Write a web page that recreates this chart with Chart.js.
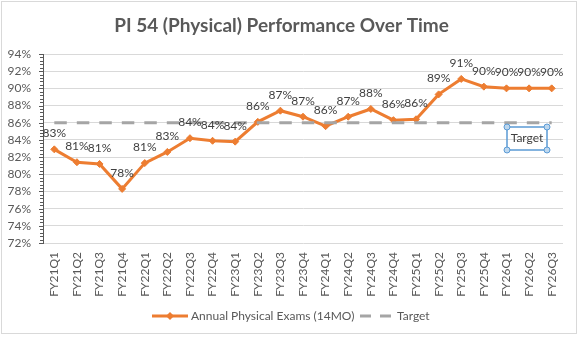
<html>
<head>
    <meta charset="utf-8">
    <title>PI 54 (Physical) Performance Over Time</title>
    <script src="https://cdn.jsdelivr.net/npm/chart.js"></script>
    <style>
        body { margin: 0; background: #fff; }
        .container { width: 578px; height: 338px; }
    </style>
</head>
<body>

<div class="container">
    <canvas id="myChart" width="578" height="338"></canvas>
</div>
<script>

    var quarters = ["FY21Q1", "FY21Q2", "FY21Q3", "FY21Q4", "FY22Q1", "FY22Q2", "FY22Q3", "FY22Q4",
        "FY23Q1", "FY23Q2", "FY23Q3", "FY23Q4", "FY24Q1", "FY24Q2", "FY24Q3", "FY24Q4",
        "FY25Q1", "FY25Q2", "FY25Q3", "FY25Q4", "FY26Q1", "FY26Q2", "FY26Q3"];
    var physicalExams = [82.9, 81.4, 81.2, 78.3, 81.3, 82.6, 84.2, 83.9, 83.8, 86.1, 87.4, 86.7,
        85.6, 86.7, 87.6, 86.3, 86.4, 89.3, 91.1, 90.2, 90.0, 90.0, 90.0];
    var targetValues = [86, 86, 86, 86, 86, 86, 86, 86, 86, 86, 86, 86,
        86, 86, 86, 86, 86, 86, 86, 86, 86, 86, 86];
    var yTicks = [72, 74, 76, 78, 80, 82, 84, 86, 88, 90, 92, 94];

    var ORANGE = '#ED7D31';
    var GRAY = '#A5A5A5';
    var TEXT = '#595959';
    var FONT = 'Lato';

    // frame, minor ticks on the value axis, data labels, legend and the text box
    var extras = {
        id: 'extras',
        beforeDraw: function (chart) {
            var ctx = chart.ctx;
            ctx.save();
            ctx.fillStyle = '#fff';
            ctx.fillRect(0, 0, chart.width, chart.height);
            ctx.strokeStyle = '#D9D9D9';
            ctx.lineWidth = 1;
            ctx.strokeRect(1.5, 1.5, 575, 332);
            ctx.restore();
        },
        afterDatasetsDraw: function (chart) {
            var ctx = chart.ctx;
            var y = chart.scales.y;
            var left = chart.chartArea.left;
            ctx.save();
            ctx.strokeStyle = '#595959';
            ctx.lineWidth = 1;
            for (var v = 72; v <= 94.001; v += 0.4) {
                var py = Math.round(y.getPixelForValue(v)) + 0.5;
                var major = Math.abs(v - Math.round(v / 2) * 2) < 0.01;
                ctx.beginPath();
                ctx.moveTo(left - (major ? 4 : 3), py);
                ctx.lineTo(left, py);
                ctx.stroke();
            }

            // data labels
            var meta = chart.getDatasetMeta(0);
            ctx.fillStyle = '#404040';
            ctx.font = '12px ' + FONT;
            ctx.textAlign = 'center';
            ctx.textBaseline = 'middle';
            meta.data.forEach(function (pt, i) {
                ctx.fillText(Math.round(physicalExams[i]) + '%', pt.x, pt.y - 16);
            });

            // legend
            var ly = 316;
            ctx.strokeStyle = ORANGE;
            ctx.lineWidth = 3;
            ctx.beginPath();
            ctx.moveTo(152, ly);
            ctx.lineTo(188, ly);
            ctx.stroke();
            ctx.fillStyle = ORANGE;
            ctx.beginPath();
            ctx.moveTo(170, ly - 4);
            ctx.lineTo(174, ly);
            ctx.lineTo(170, ly + 4);
            ctx.lineTo(166, ly);
            ctx.closePath();
            ctx.fill();
            ctx.strokeStyle = GRAY;
            ctx.beginPath();
            ctx.moveTo(360, ly);
            ctx.lineTo(371, ly);
            ctx.moveTo(380, ly);
            ctx.lineTo(391, ly);
            ctx.stroke();
            ctx.fillStyle = TEXT;
            ctx.textAlign = 'left';
            ctx.fillText('Annual Physical Exams (14MO)', 191, ly);
            ctx.fillText('Target', 397, ly);

            // selected text box
            var bx = 507, by = 127, bw = 40, bh = 23;
            ctx.strokeStyle = '#5B9BD5';
            ctx.lineWidth = 1.5;
            ctx.strokeRect(bx, by, bw, bh);
            ctx.fillStyle = '#404040';
            ctx.textAlign = 'center';
            ctx.fillText('Target', bx + bw / 2, by + bh / 2);
            [[bx, by], [bx + bw, by], [bx, by + bh], [bx + bw, by + bh]].forEach(function (c) {
                ctx.beginPath();
                ctx.arc(c[0], c[1], 3, 0, Math.PI * 2);
                ctx.fillStyle = '#BDD7EE';
                ctx.fill();
                ctx.lineWidth = 1;
                ctx.stroke();
            });
            ctx.restore();
        }
    };

    var container = document.getElementById('myChart');
    const config = {
        type: 'line',
        data: {
            labels: quarters,
            datasets: [{
                label: 'Annual Physical Exams (14MO)',
                data: physicalExams,
                borderColor: ORANGE,
                backgroundColor: ORANGE,
                borderWidth: 3,
                pointStyle: 'rectRot',
                pointRadius: 3.5,
                pointBorderWidth: 1,
                tension: 0,
                order: 1
            }, {
                label: 'Target',
                data: targetValues,
                borderColor: GRAY,
                backgroundColor: GRAY,
                borderWidth: 3,
                borderDash: [12.5, 10],
                borderCapStyle: 'butt',
                pointRadius: 0,
                order: 0
            }]
        },
        options: {
            responsive: false,
            animation: false,
            events: [],
            layout: { padding: { left: 0, right: 15, top: 0, bottom: 35 } },
            plugins: {
                legend: { display: false },
                tooltip: { enabled: false },
                title: {
                    display: true,
                    text: 'PI 54 (Physical) Performance Over Time',
                    color: TEXT,
                    font: { family: FONT, size: 19, weight: 'bold' },
                    padding: { top: 14, bottom: 17.2 }
                }
            },
            scales: {
                x: {
                    offset: true,
                    grid: { display: false, drawTicks: false },
                    border: { display: false },
                    ticks: {
                        color: TEXT,
                        font: { family: FONT, size: 12 },
                        maxRotation: 90,
                        minRotation: 90,
                        padding: 9,
                        autoSkip: false
                    },
                    afterFit: function (scale) { scale.height = 60; }
                },
                y: {
                    min: 72,
                    max: 94,
                    afterBuildTicks: function (scale) {
                        scale.ticks = yTicks.map(function (v) { return { value: v }; });
                    },
                    grid: { color: '#D9D9D9', drawTicks: false },
                    border: { display: true, color: '#595959' },
                    ticks: {
                        color: TEXT,
                        font: { family: FONT, size: 12 },
                        padding: 12,
                        autoSkip: false,
                        callback: function (v) { return v + '%'; }
                    },
                    afterFit: function (scale) { scale.width = 43; }
                }
            }
        },
        plugins: [extras]
    };
    const myChart = new Chart(container, config);

</script>

</body>
</html>
